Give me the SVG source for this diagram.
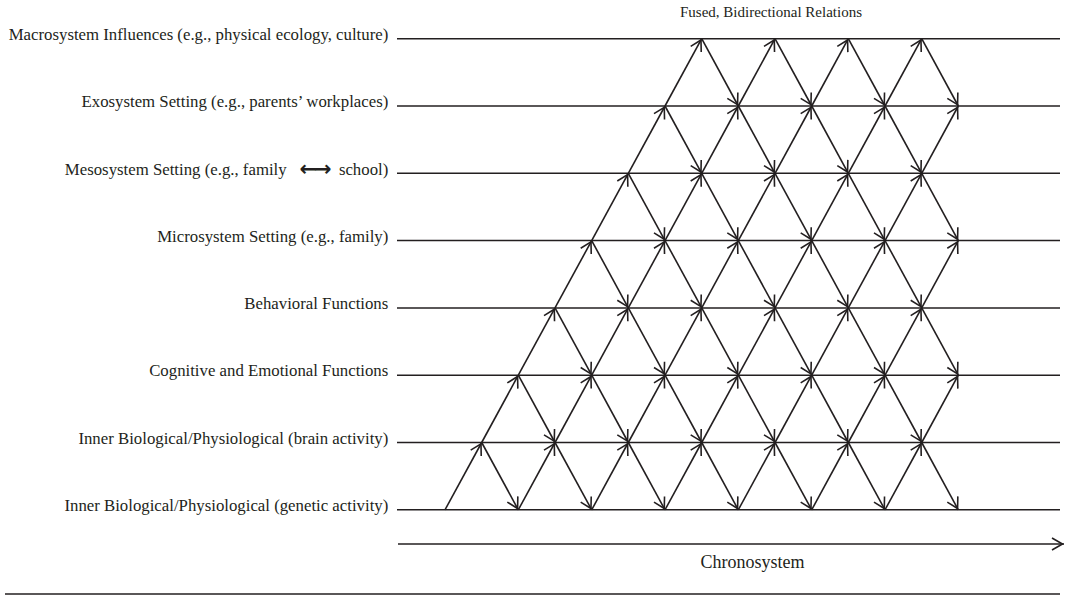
<svg xmlns="http://www.w3.org/2000/svg" width="1066" height="595" viewBox="0 0 1066 595">
<style>
.lbl{font-family:"Liberation Serif","Times New Roman",serif;font-size:16.8px;fill:#231f20;text-anchor:end}
.ttl{font-family:"Liberation Serif","Times New Roman",serif;font-size:15px;fill:#231f20;text-anchor:middle}
.chr{font-family:"Liberation Serif","Times New Roman",serif;font-size:18px;fill:#231f20;text-anchor:middle}
.sym{font-family:"DejaVu Sans",sans-serif;font-weight:bold;font-size:21px;letter-spacing:-3px;fill:#231f20}
.lev{stroke:#231f20;stroke-width:1.5;fill:none}
.e{stroke:#231f20;stroke-width:1.6;fill:none;marker-end:url(#ah)}
</style>
<defs>
<marker id="ah" markerUnits="userSpaceOnUse" viewBox="-12 -7 14 14" markerWidth="14" markerHeight="14" refX="1.5" refY="0" orient="auto" overflow="visible">
<path d="M-10.5,-6 L0,0 L-10.5,6" fill="none" stroke="#231f20" stroke-width="1.6" stroke-linejoin="miter"/>
</marker>
</defs>
<text class="ttl" x="771" y="17">Fused, Bidirectional Relations</text>
<g id="level-macro"><text class="lbl" x="388.3" y="40">Macrosystem Influences (e.g., physical ecology, culture)</text><line class="lev" x1="397" y1="38.7" x2="1060" y2="38.7"/></g>
<g id="level-exo"><text class="lbl" x="388.3" y="107.2">Exosystem Setting (e.g., parents’ workplaces)</text><line class="lev" x1="397" y1="106" x2="1060" y2="106"/></g>
<g id="level-meso"><text class="lbl" x="286.7" y="174.5">Mesosystem Setting (e.g., family</text><text class="sym" x="299.5" y="175.5">←→</text><text class="lbl" x="388.3" y="174.5">school)</text><line class="lev" x1="397" y1="173.3" x2="1060" y2="173.3"/></g>
<g id="level-micro"><text class="lbl" x="388.3" y="241.8">Microsystem Setting (e.g., family)</text><line class="lev" x1="397" y1="240.6" x2="1060" y2="240.6"/></g>
<g id="level-behav"><text class="lbl" x="388.3" y="309.1">Behavioral Functions</text><line class="lev" x1="397" y1="307.9" x2="1060" y2="307.9"/></g>
<g id="level-cog"><text class="lbl" x="388.3" y="376.4">Cognitive and Emotional Functions</text><line class="lev" x1="397" y1="375.2" x2="1060" y2="375.2"/></g>
<g id="level-brain"><text class="lbl" x="388.3" y="443.7">Inner Biological/Physiological (brain activity)</text><line class="lev" x1="397" y1="442.5" x2="1060" y2="442.5"/></g>
<g id="level-genetic"><text class="lbl" x="388.3" y="511">Inner Biological/Physiological (genetic activity)</text><line class="lev" x1="397" y1="509.8" x2="1060" y2="509.8"/></g>
<g id="chronosystem"><line class="e" x1="398" y1="544" x2="1064" y2="544"/><text class="chr" x="752.5" y="568">Chronosystem</text></g>
<line class="lev" x1="5" y1="594" x2="1060" y2="594"/>
<g id="connectors">
<line class="e" x1="445" y1="509.8" x2="481.7" y2="442.5"/>
<line class="e" x1="518.3" y1="509.8" x2="555" y2="442.5"/>
<line class="e" x1="591.7" y1="509.8" x2="628.3" y2="442.5"/>
<line class="e" x1="665" y1="509.8" x2="701.7" y2="442.5"/>
<line class="e" x1="738.3" y1="509.8" x2="775" y2="442.5"/>
<line class="e" x1="811.7" y1="509.8" x2="848.3" y2="442.5"/>
<line class="e" x1="885" y1="509.8" x2="921.7" y2="442.5"/>
<line class="e" x1="481.7" y1="442.5" x2="518.3" y2="375.2"/>
<line class="e" x1="555" y1="442.5" x2="591.7" y2="375.2"/>
<line class="e" x1="628.3" y1="442.5" x2="665" y2="375.2"/>
<line class="e" x1="701.7" y1="442.5" x2="738.3" y2="375.2"/>
<line class="e" x1="775" y1="442.5" x2="811.7" y2="375.2"/>
<line class="e" x1="848.3" y1="442.5" x2="885" y2="375.2"/>
<line class="e" x1="921.7" y1="442.5" x2="958.3" y2="375.2"/>
<line class="e" x1="518.3" y1="375.2" x2="555" y2="307.9"/>
<line class="e" x1="591.7" y1="375.2" x2="628.3" y2="307.9"/>
<line class="e" x1="665" y1="375.2" x2="701.7" y2="307.9"/>
<line class="e" x1="738.3" y1="375.2" x2="775" y2="307.9"/>
<line class="e" x1="811.7" y1="375.2" x2="848.3" y2="307.9"/>
<line class="e" x1="885" y1="375.2" x2="921.7" y2="307.9"/>
<line class="e" x1="555" y1="307.9" x2="591.7" y2="240.6"/>
<line class="e" x1="628.3" y1="307.9" x2="665" y2="240.6"/>
<line class="e" x1="701.7" y1="307.9" x2="738.3" y2="240.6"/>
<line class="e" x1="775" y1="307.9" x2="811.7" y2="240.6"/>
<line class="e" x1="848.3" y1="307.9" x2="885" y2="240.6"/>
<line class="e" x1="921.7" y1="307.9" x2="958.3" y2="240.6"/>
<line class="e" x1="591.7" y1="240.6" x2="628.3" y2="173.3"/>
<line class="e" x1="665" y1="240.6" x2="701.7" y2="173.3"/>
<line class="e" x1="738.3" y1="240.6" x2="775" y2="173.3"/>
<line class="e" x1="811.7" y1="240.6" x2="848.3" y2="173.3"/>
<line class="e" x1="885" y1="240.6" x2="921.7" y2="173.3"/>
<line class="e" x1="628.3" y1="173.3" x2="665" y2="106"/>
<line class="e" x1="701.7" y1="173.3" x2="738.3" y2="106"/>
<line class="e" x1="775" y1="173.3" x2="811.7" y2="106"/>
<line class="e" x1="848.3" y1="173.3" x2="885" y2="106"/>
<line class="e" x1="921.7" y1="173.3" x2="958.3" y2="106"/>
<line class="e" x1="665" y1="106" x2="701.7" y2="38.7"/>
<line class="e" x1="738.3" y1="106" x2="775" y2="38.7"/>
<line class="e" x1="811.7" y1="106" x2="848.3" y2="38.7"/>
<line class="e" x1="885" y1="106" x2="921.7" y2="38.7"/>
<line class="e" x1="481.7" y1="442.5" x2="518.3" y2="509.8"/>
<line class="e" x1="555" y1="442.5" x2="591.7" y2="509.8"/>
<line class="e" x1="628.3" y1="442.5" x2="665" y2="509.8"/>
<line class="e" x1="701.7" y1="442.5" x2="738.3" y2="509.8"/>
<line class="e" x1="775" y1="442.5" x2="811.7" y2="509.8"/>
<line class="e" x1="848.3" y1="442.5" x2="885" y2="509.8"/>
<line class="e" x1="921.7" y1="442.5" x2="958.3" y2="509.8"/>
<line class="e" x1="518.3" y1="375.2" x2="555" y2="442.5"/>
<line class="e" x1="591.7" y1="375.2" x2="628.3" y2="442.5"/>
<line class="e" x1="665" y1="375.2" x2="701.7" y2="442.5"/>
<line class="e" x1="738.3" y1="375.2" x2="775" y2="442.5"/>
<line class="e" x1="811.7" y1="375.2" x2="848.3" y2="442.5"/>
<line class="e" x1="885" y1="375.2" x2="921.7" y2="442.5"/>
<line class="e" x1="555" y1="307.9" x2="591.7" y2="375.2"/>
<line class="e" x1="628.3" y1="307.9" x2="665" y2="375.2"/>
<line class="e" x1="701.7" y1="307.9" x2="738.3" y2="375.2"/>
<line class="e" x1="775" y1="307.9" x2="811.7" y2="375.2"/>
<line class="e" x1="848.3" y1="307.9" x2="885" y2="375.2"/>
<line class="e" x1="921.7" y1="307.9" x2="958.3" y2="375.2"/>
<line class="e" x1="591.7" y1="240.6" x2="628.3" y2="307.9"/>
<line class="e" x1="665" y1="240.6" x2="701.7" y2="307.9"/>
<line class="e" x1="738.3" y1="240.6" x2="775" y2="307.9"/>
<line class="e" x1="811.7" y1="240.6" x2="848.3" y2="307.9"/>
<line class="e" x1="885" y1="240.6" x2="921.7" y2="307.9"/>
<line class="e" x1="628.3" y1="173.3" x2="665" y2="240.6"/>
<line class="e" x1="701.7" y1="173.3" x2="738.3" y2="240.6"/>
<line class="e" x1="775" y1="173.3" x2="811.7" y2="240.6"/>
<line class="e" x1="848.3" y1="173.3" x2="885" y2="240.6"/>
<line class="e" x1="921.7" y1="173.3" x2="958.3" y2="240.6"/>
<line class="e" x1="665" y1="106" x2="701.7" y2="173.3"/>
<line class="e" x1="738.3" y1="106" x2="775" y2="173.3"/>
<line class="e" x1="811.7" y1="106" x2="848.3" y2="173.3"/>
<line class="e" x1="885" y1="106" x2="921.7" y2="173.3"/>
<line class="e" x1="701.7" y1="38.7" x2="738.3" y2="106"/>
<line class="e" x1="775" y1="38.7" x2="811.7" y2="106"/>
<line class="e" x1="848.3" y1="38.7" x2="885" y2="106"/>
<line class="e" x1="921.7" y1="38.7" x2="958.3" y2="106"/>
</g>
</svg>
